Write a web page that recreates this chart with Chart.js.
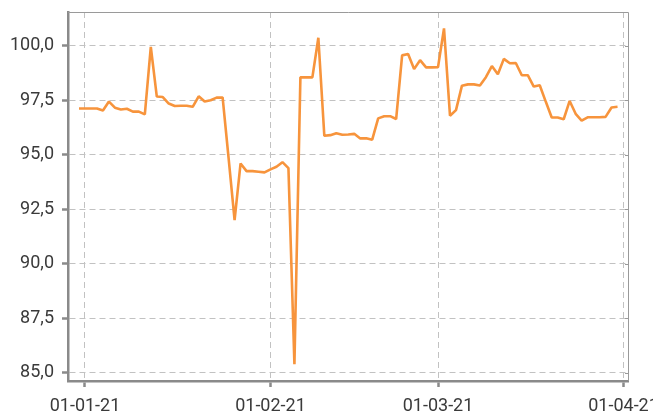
<!DOCTYPE html>
<html>
<head>
<meta charset="utf-8">
<script src="https://cdn.jsdelivr.net/npm/chart.js@4"></script>
<style>
  html, body { margin: 0; padding: 0; background: #fff; overflow: hidden; }
  #wrap { width: 680px; height: 416px; }
</style>
</head>
<body>
<div id="wrap"><canvas id="myChart"></canvas></div>
<script>
// Daily values, 31-12-20 .. 31-03-21
const values = [
    97.12, 97.12, 97.12, 97.12, 97.03, 97.44, 97.16, 97.08, 97.11, 96.98,
    96.98, 96.85, 99.95, 97.67, 97.65, 97.35, 97.24, 97.25, 97.25, 97.20,
    97.68, 97.44, 97.50, 97.62, 97.63, 94.85, 92.00, 94.60, 94.25, 94.25,
    94.22, 94.19, 94.33, 94.45, 94.66, 94.39, 85.39, 98.55, 98.55, 98.55,
    100.37, 95.87, 95.90, 95.99, 95.92, 95.93, 95.96, 95.75, 95.76, 95.69,
    96.67, 96.77, 96.77, 96.64, 99.56, 99.62, 98.93, 99.34, 99.01, 99.01,
    99.02, 100.80, 96.79, 97.05, 98.17, 98.23, 98.23, 98.18, 98.56, 99.07,
    98.69, 99.40, 99.20, 99.21, 98.65, 98.65, 98.13, 98.19, 97.44, 96.71,
    96.71, 96.63, 97.47, 96.88, 96.57, 96.72, 96.72, 96.72, 96.74, 97.17,
    97.20
];

// dates as day offsets from 01-01-21 (first value is 31-12-20)
const startDay = -1;
const days = values.map((v, i) => startDay + i);

// x axis ticks
const tickDays = [0, 31, 59, 90];
const tickLabels = ['01-01-21', '01-02-21', '01-03-21', '01-04-21'];

const axisColor = '#8a8a8a';
const gridColor = '#c2c2c2';
const textColor = '#3a3a3a';

// thin frame on top and right, with small inward ticks on the right
const framePlugin = {
    id: 'frame',
    afterDraw: (chart) => {
        const { ctx, chartArea, scales } = chart;
        ctx.save();
        ctx.strokeStyle = '#9a9a9a';
        ctx.lineWidth = 1;
        ctx.beginPath();
        ctx.moveTo(chartArea.left, chartArea.top + 0.5);
        ctx.lineTo(chartArea.right + 0.5, chartArea.top + 0.5);
        ctx.lineTo(chartArea.right + 0.5, chartArea.bottom);
        ctx.stroke();
        ctx.beginPath();
        scales.y.ticks.forEach(t => {
            const y = Math.round(scales.y.getPixelForValue(t.value)) + 0.5;
            ctx.moveTo(chartArea.right - 3, y);
            ctx.lineTo(chartArea.right, y);
        });
        ctx.stroke();
        ctx.restore();
    }
};

const ctx = document.getElementById('myChart').getContext('2d');
new Chart(ctx, {
    type: 'line',
    data: {
        datasets: [{
            data: days.map((d, i) => ({ x: d, y: values[i] })),
            borderColor: '#f7943c',
            borderWidth: 2.6,
            borderJoinStyle: 'bevel',
            pointRadius: 0,
            tension: 0,
            fill: false
        }]
    },
    options: {
        responsive: true,
        maintainAspectRatio: false,
        animation: false,
        layout: {
            padding: { left: 8, right: 52, top: 12, bottom: 0 }
        },
        plugins: {
            legend: { display: false },
            tooltip: { enabled: false }
        },
        scales: {
            x: {
                type: 'linear',
                min: -2.84,
                max: 90.75,
                afterBuildTicks: (scale) => {
                    scale.ticks = tickDays.map(v => ({ value: v }));
                },
                afterFit: (scale) => { scale.height = 35; },
                ticks: {
                    autoSkip: false,
                    maxRotation: 0,
                    padding: 9,
                    color: textColor,
                    font: { family: 'Roboto', size: 18 },
                    callback: (value) => tickLabels[tickDays.indexOf(value)]
                },
                grid: {
                    color: gridColor,
                    lineWidth: 1,
                    tickColor: axisColor,
                    tickLength: 6,
                    tickWidth: 2.5
                },
                border: {
                    display: true,
                    color: axisColor,
                    width: 2.5,
                    dash: [6, 4]
                }
            },
            y: {
                min: 84.62,
                max: 101.55,
                afterFit: (scale) => {
                    scale.width = 60;
                    scale.paddingTop = 0;
                    scale.paddingBottom = 0;
                },
                ticks: {
                    stepSize: 2.5,
                    includeBounds: false,
                    padding: 8,
                    color: textColor,
                    font: { family: 'Roboto', size: 18 },
                    callback: (value) => value.toFixed(1).replace('.', ',')
                },
                grid: {
                    color: gridColor,
                    lineWidth: 1,
                    tickColor: axisColor,
                    tickLength: 6,
                    tickWidth: 2.5
                },
                border: {
                    display: true,
                    color: axisColor,
                    width: 2.5,
                    dash: [6, 4]
                }
            }
        }
    },
    plugins: [framePlugin]
});
</script>
</body>
</html>
